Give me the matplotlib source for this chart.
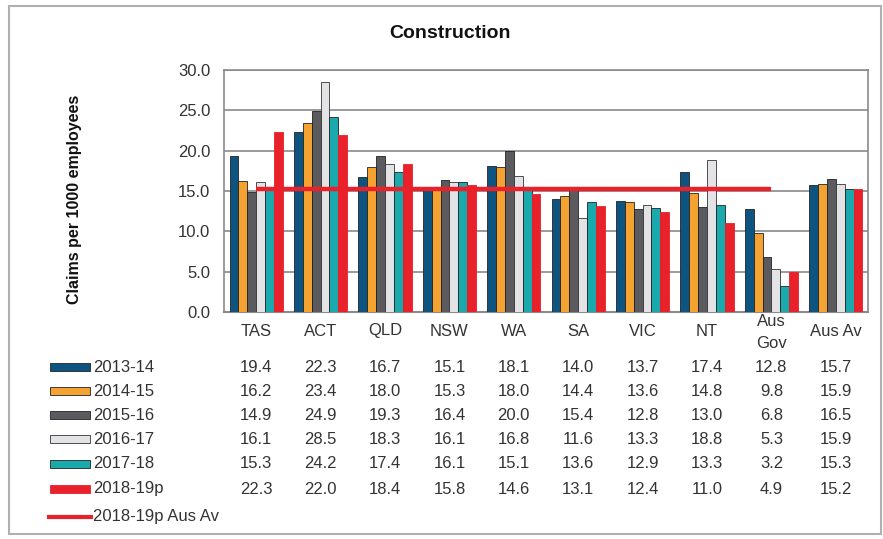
import matplotlib.pyplot as plt
import numpy
from matplotlib.patches import Rectangle
from matplotlib.lines import Line2D
from matplotlib.transforms import blended_transform_factory

plt.rcParams['font.family'] = ['Liberation Sans', 'DejaVu Sans']

categories = ['TAS', 'ACT', 'QLD', 'NSW', 'WA', 'SA', 'VIC', 'NT', 'Aus\nGov', 'Aus Av']
years = ['2013-14', '2014-15', '2015-16', '2016-17', '2017-18', '2018-19p']
y2013 = [19.4, 22.3, 16.7, 15.1, 18.1, 14.0, 13.7, 17.4, 12.8, 15.7]
y2014 = [16.2, 23.4, 18.0, 15.3, 18.0, 14.4, 13.6, 14.8, 9.8, 15.9]
y2015 = [14.9, 24.9, 19.3, 16.4, 20.0, 15.4, 12.8, 13.0, 6.8, 16.5]
y2016 = [16.1, 28.5, 18.3, 16.1, 16.8, 11.6, 13.3, 18.8, 5.3, 15.9]
y2017 = [15.3, 24.2, 17.4, 16.1, 15.1, 13.6, 12.9, 13.3, 3.2, 15.3]
y2018 = [22.3, 22.0, 18.4, 15.8, 14.6, 13.1, 12.4, 11.0, 4.9, 15.2]
aus_av = 15.2
series = [y2013, y2014, y2015, y2016, y2017, y2018]
colours = ['#0d5580', '#f4a232', '#5b5b5f', '#e3e3e6', '#1aa9ad', '#e8212b']
edges = ['#222222', '#222222', '#222222', '#333333', '#222222', '#e8212b']
txt = '#333333'

W, H = 883, 539
fig = plt.figure(figsize=(W / 100, H / 100), dpi=100)
ax = fig.add_axes([224 / W, 1 - 312 / H, 644 / W, 242 / H])

x = numpy.arange(len(categories))
bw = 0.138
for i, vals in enumerate(series):
    ax.bar(x + (i - 2.5) * bw, vals, width=bw, color=colours[i],
           edgecolor=edges[i], linewidth=0.6, zorder=3)

# national average line across the jurisdictions
ax.plot(x[:-1], [aus_av] * (len(categories) - 1), color='#e8212b',
        linewidth=3.2, zorder=4, solid_capstyle='butt')

ax.set_xlim(-0.5, len(categories) - 0.5)
ax.set_ylim(0, 30)
ax.set_yticks(numpy.arange(0, 31, 5))
ax.set_yticklabels(['%.1f' % v for v in numpy.arange(0, 31, 5)],
                   fontsize=12, color=txt)
ax.set_xticks([])
ax.yaxis.grid(True, color='#8a8a8a', linewidth=1.2, zorder=0)
ax.tick_params(axis='y', length=0, pad=10)
for s in ax.spines.values():
    s.set_color('#8a8a8a')
    s.set_linewidth(1.2)
ax.spines['bottom'].set_linewidth(1.5)

fig.text(450 / W, 1 - 33 / H, 'Construction', ha='center', va='center',
         fontsize=14, fontweight='bold', color='#111111')
fig.text(75 / W, 1 - 199 / H, 'Claims per 1000 employees', ha='center',
         va='center', rotation=90, fontsize=11.5, fontweight='bold', color='#111111')

# data table under the bars
trans = blended_transform_factory(ax.transData, fig.transFigure)
for j, cat in enumerate(categories):
    if '\n' in cat:
        top, bot = cat.split('\n')
        fig.text(j, 1 - 322 / H, top, transform=trans, ha='center', va='center',
                 fontsize=12, color=txt)
        fig.text(j, 1 - 343 / H, bot, transform=trans, ha='center', va='center',
                 fontsize=12, color=txt)
    else:
        fig.text(j, 1 - 331 / H, cat, transform=trans, ha='center', va='center',
                 fontsize=12, color=txt)

row_y = [367, 391, 415, 439, 464, 489]
for i, vals in enumerate(series):
    yy = 1 - row_y[i] / H
    fig.patches.append(Rectangle((50 / W, yy - 4 / H), 40 / W, 8 / H,
                                 transform=fig.transFigure, facecolor=colours[i],
                                 edgecolor=edges[i], linewidth=0.6))
    fig.text(93 / W, yy, years[i], ha='left', va='center', fontsize=12,
             color=txt)
    for j, v in enumerate(vals):
        fig.text(j, yy, '%.1f' % v, transform=trans, ha='center', va='center',
                 fontsize=12, color=txt)

yy = 1 - 517 / H
fig.lines.append(Line2D([49 / W, 91 / W], [yy, yy], transform=fig.transFigure,
                        color='#e8212b', linewidth=3))
fig.text(93 / W, yy, '2018-19p Aus Av', ha='left', va='center', fontsize=12,
         color=txt)

# outer frame
fig.patches.append(Rectangle((9 / W, 1 - 534 / H), 872 / W, 528 / H,
                             transform=fig.transFigure, fill=False,
                             edgecolor='#b0b0b0', linewidth=1.5))

fig.savefig('out.png', dpi=100)
